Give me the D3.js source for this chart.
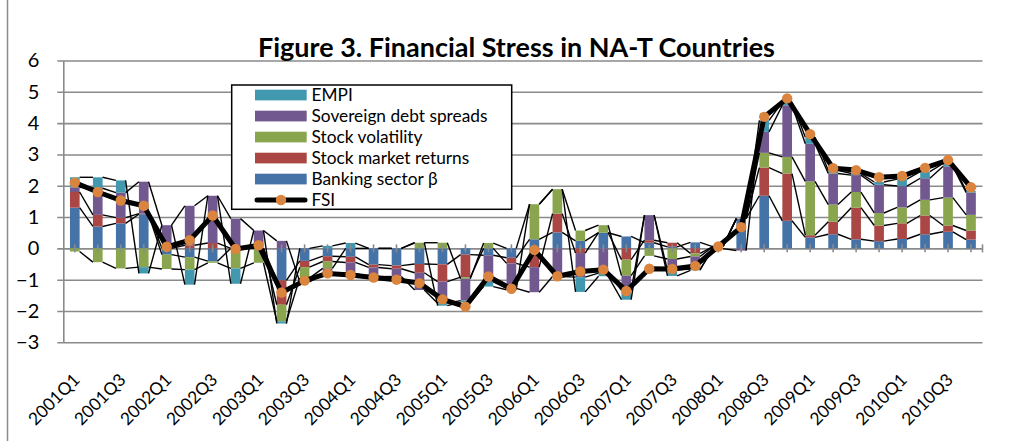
<!DOCTYPE html>
<html><head><meta charset="utf-8">
<script src="https://cdn.jsdelivr.net/npm/d3@7"></script>
<style>
body{margin:0;background:#fff}
svg{display:block}
text{font-family:Lato,"Open Sans",sans-serif;fill:#000}
</style>
</head><body>
<svg id="c" width="1012" height="441"></svg>
<script>
// ---------- data ----------
const quarters = ["2001Q1","2001Q2","2001Q3","2001Q4","2002Q1","2002Q2","2002Q3","2002Q4",
"2003Q1","2003Q2","2003Q3","2003Q4","2004Q1","2004Q2","2004Q3","2004Q4",
"2005Q1","2005Q2","2005Q3","2005Q4","2006Q1","2006Q2","2006Q3","2006Q4",
"2007Q1","2007Q2","2007Q3","2007Q4","2008Q1","2008Q2","2008Q3","2008Q4",
"2009Q1","2009Q2","2009Q3","2009Q4","2010Q1","2010Q2","2010Q3","2010Q4"];
const banking = [1.3,0.7,0.8,1.09,-0.2,-0.28,-0.41,0.0,0.0,-1.02,-0.4,-0.25,-0.27,-0.52,-0.55,-0.5,
-0.51,-0.2,-0.22,-0.3,0.29,0.51,0.24,0.5,0.38,0.18,0.05,0.19,0.05,0.95,1.68,0.88,0.35,0.45,0.29,0.23,0.3,0.45,0.53,0.28];
const stockReturns = [0.5,0.37,0.18,0.02,0.0,0.1,0.17,0.0,0.0,-0.78,-0.2,-0.17,-0.18,-0.09,-0.1,-0.28,
-0.55,-0.72,0.0,-0.18,-0.6,0.6,-0.15,0.0,-0.36,0.08,0.13,-0.16,0.01,0.0,0.9,1.51,0.07,0.4,1.01,0.5,0.5,0.6,0.2,0.29];
const stockVol = [-0.1,-0.44,-0.64,-0.6,-0.46,-0.4,-0.05,-0.64,-0.46,-0.53,-0.35,-0.22,0.0,0.0,0.0,0.18,
0.18,-0.05,0.17,0.0,1.12,0.78,0.33,0.24,-0.51,-0.24,-0.34,-0.1,0.01,0.0,0.47,0.53,1.72,0.55,0.5,0.4,0.51,0.5,0.89,0.5];
const sovereign = [0.15,0.85,0.8,1.02,0.74,1.26,1.51,0.95,0.57,0.24,-0.12,-0.2,-0.35,-0.29,-0.25,-0.55,
-0.69,-0.7,-0.85,-0.8,-0.8,-0.9,-0.77,-0.79,-0.47,0.8,-0.35,-0.4,-0.01,-0.07,0.67,1.65,1.2,0.99,0.54,0.9,0.68,0.69,1.0,0.71];
const empi = [0.32,0.35,0.39,-0.2,0.0,-0.48,0.0,-0.49,0.0,-0.07,0.0,0.08,0.17,0.0,0.0,0.0,
-0.08,-0.05,-0.15,-0.04,0.0,0.0,-0.47,-0.1,-0.3,0.0,-0.19,-0.04,0.0,0.0,0.37,0.1,0.21,0.1,0.05,0.09,0.22,0.21,0.09,0.05];
const fsi = [2.1,1.8,1.53,1.36,0.05,0.26,1.05,-0.02,0.1,-1.41,-1.03,-0.8,-0.85,-0.93,-1.0,-1.11,
-1.63,-1.86,-0.9,-1.29,-0.05,-0.89,-0.74,-0.68,-1.36,-0.65,-0.66,-0.56,0.06,0.68,4.2,4.79,3.65,2.56,2.5,2.27,2.31,2.57,2.82,1.95];
const yTicks = [-3,-2,-1,0,1,2,3,4,5,6];
const seriesNames = ["Banking sector β","Stock market returns","Stock volatility","Sovereign debt spreads","EMPI"];
const seriesColors = ["#4572A7","#AA4643","#89A54E","#71588F","#4198AF"];
const fsiName = "FSI";
const titleText = "Figure 3. Financial Stress in NA-T Countries";

// ---------- helpers ----------
function fitFont(sel, target){
  const node = sel.node();
  const fs = parseFloat(sel.attr("font-size"));
  const w = node.getComputedTextLength();
  if (w > 0) sel.attr("font-size", (fs * target / w).toFixed(2));
  return parseFloat(sel.attr("font-size"));
}

// ---------- layout ----------
const svg = d3.select("#c");
const left = 63.3, right = 982.5, grid = "#8a8a8a";
const x = d3.scaleBand().domain(quarters).range([left, right]).paddingInner(0.58).paddingOuter(0.29);
const y = d3.scaleLinear().domain([-3, 6]).range([342.3, 60.5]);
const cx = q => x(q) + x.bandwidth() / 2;

// outer frame line at left
svg.append("line").attr("x1",7.5).attr("x2",7.5).attr("y1",0).attr("y2",441)
  .attr("stroke","#8c8c8c").attr("stroke-width",1.5);

// gridlines
svg.append("g").attr("transform",`translate(${right},0)`)
  .call(d3.axisLeft(y).tickValues(yTicks).tickSize(right - left + 6).tickFormat(""))
  .call(g => g.select(".domain").remove())
  .call(g => g.selectAll("line").attr("stroke",grid).attr("stroke-width",1.6));

// y axis
svg.append("g").attr("transform",`translate(${left},0)`)
  .call(d3.axisLeft(y).tickValues(yTicks).tickSize(0).tickPadding(24).tickFormat(d3.format("d")))
  .call(g => g.select(".domain").attr("stroke",grid).attr("stroke-width",1.6))
  .call(g => g.selectAll("text").attr("font-size",20).attr("font-family","Lato").attr("fill","#000"));

// stack data
const keys = ["b","r","v","s","e"];
const rows = quarters.map((q,i)=>({q, b:banking[i], r:stockReturns[i], v:stockVol[i], s:sovereign[i], e:empi[i]}));
function offsetExcel(series, order){
  const m = series[order[0]].length;
  for (let j=0;j<m;j++){
    let yp=0, yn=0;
    for (let i=0;i<series.length;i++){
      const d = series[order[i]][j]; const dy = d[1]-d[0];
      if (dy >= 0){ d[0]=yp; d[1]=yp+=dy; } else { d[1]=yn; d[0]=yn+=dy; }
    }
  }
}
const stacked = d3.stack().keys(keys).offset(offsetExcel)(rows);

// bars
svg.append("g").selectAll("g").data(stacked).join("g")
  .attr("fill",(d,i)=>seriesColors[i])
  .selectAll("rect").data(d=>d).join("rect")
  .attr("x",d=>x(d.data.q)).attr("width",x.bandwidth())
  .attr("y",d=>y(d[1])).attr("height",d=>Math.max(0,y(d[0])-y(d[1])));

// x axis at zero
const y0 = y(0);
svg.append("g").attr("transform",`translate(0,${y0})`)
  .call(d3.axisBottom(x).tickSize(0).tickFormat(""))
  .call(g => g.select(".domain").remove())
  .call(g => g.selectAll(".tick").append("line").attr("y1",-4).attr("y2",4)
      .attr("stroke",grid).attr("stroke-width",1.6));
svg.append("line").attr("x1",right).attr("x2",right).attr("y1",y0-4).attr("y2",y0+4)
  .attr("stroke",grid).attr("stroke-width",1.6);

// series lines
const far = (d,k) => d.data[k] >= 0 ? d[1] : d[0];
const sl = svg.append("g").attr("stroke","#000").attr("stroke-width",1.4).attr("fill","none");
stacked.forEach((s,i)=>{
  for (let j=0;j<s.length-1;j++){
    const a=s[j], b=s[j+1];
    sl.append("line")
      .attr("x1",x(a.data.q)+x.bandwidth()).attr("y1",y(far(a,keys[i])))
      .attr("x2",x(b.data.q)).attr("y2",y(far(b,keys[i])));
  }
});

// FSI line
svg.append("path").datum(fsi)
  .attr("d", d3.line().x((d,i)=>cx(quarters[i])).y(d=>y(d)))
  .attr("fill","none").attr("stroke","#000").attr("stroke-width",5).attr("stroke-linejoin","round");
svg.append("g").selectAll("circle").data(fsi).join("circle")
  .attr("cx",(d,i)=>cx(quarters[i])).attr("cy",d=>y(d)).attr("r",5.2).attr("fill","#DB843D");

// x labels (every other quarter)
const lab = svg.append("g").attr("transform","translate(0,381)")
  .call(d3.axisBottom(x).tickSize(0).tickFormat((d,i)=> i%2===0 ? d : ""))
  .call(g => g.select(".domain").remove());
const labTexts = lab.selectAll("text").attr("font-size",18).attr("font-family","Lato")
  .attr("text-anchor","end").attr("dy",0).attr("y",0)
  .attr("transform","translate(6,0) rotate(-45)");
const lfs = fitFont(d3.select(labTexts.nodes()[0]), 64);
labTexts.attr("font-size", lfs);

// title
const title = svg.append("text").attr("x",516.5).attr("y",57).attr("text-anchor","middle")
  .attr("font-size",26).attr("font-weight","bold").text(titleText);
fitFont(title, 517);

// legend
const lg = svg.append("g");
lg.append("rect").attr("x",231.7).attr("y",85).attr("width",280).attr("height",124.3)
  .attr("fill","#fff").attr("stroke","#000").attr("stroke-width",1.5);
const items = seriesNames.map((n,i)=>({n,c:seriesColors[i]})).reverse();
const legTexts = [];
items.forEach((it,k)=>{
  const yy = 95 + 21*k;
  lg.append("rect").attr("x",255).attr("y",yy-5.3).attr("width",51.7).attr("height",10.7).attr("fill",it.c);
  legTexts.push(lg.append("text").attr("x",311.5).attr("y",yy+6).attr("font-size",17).text(it.n));
});
{
  const yy = 95 + 21*5;
  lg.append("line").attr("x1",257).attr("x2",305).attr("y1",yy).attr("y2",yy)
    .attr("stroke","#000").attr("stroke-width",5).attr("stroke-linecap","round");
  lg.append("circle").attr("cx",281).attr("cy",yy).attr("r",5.2).attr("fill","#DB843D");
  legTexts.push(lg.append("text").attr("x",311.5).attr("y",yy+6).attr("font-size",17).text(fsiName));
}
const legFs = fitFont(legTexts[1], 176);
legTexts.forEach(t => t.attr("font-size", legFs));
</script>
</body></html>
